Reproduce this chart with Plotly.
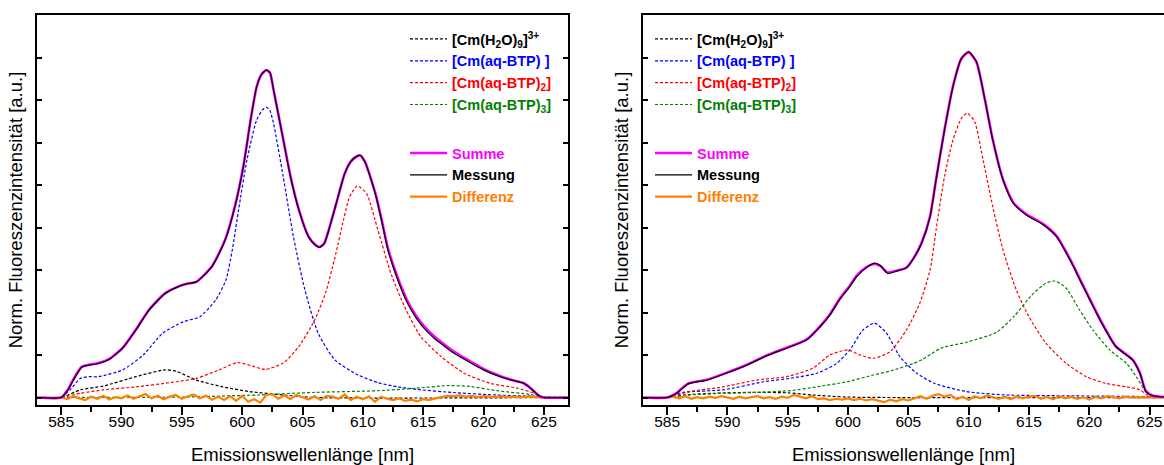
import numpy as np
import plotly.graph_objects as go

# ---------------- data ----------------
# Left panel
L_MESS_X = [583, 585, 585.5, 586, 586.7, 587.3, 588.1, 589.0, 590.1, 591.2, 592.3, 593.6, 594.8, 595.5,
            596.2, 597.5, 598.6, 599.4, 600.1, 600.7, 601.2, 601.6, 602.0, 602.3, 602.6, 603.3, 604.0,
            604.7, 605.5, 606.0, 606.4, 606.8, 607.1, 607.8, 608.5, 609.0, 609.5, 609.8, 610.2, 610.6,
            611.1, 611.6, 612.1, 612.9, 613.7, 614.4, 615.1, 616.0, 616.7, 617.5, 618.4, 619.2, 620.0,
            620.8, 621.7, 622.5, 623.3, 623.9, 624.6, 625.0, 627]
L_MESS_Y = [0, 0, 0.015, 0.04, 0.071, 0.076, 0.080, 0.090, 0.116, 0.159, 0.206, 0.244, 0.262, 0.268,
            0.272, 0.308, 0.371, 0.449, 0.543, 0.653, 0.731, 0.760, 0.771, 0.765, 0.724, 0.622, 0.520,
            0.441, 0.378, 0.360, 0.353, 0.362, 0.386, 0.457, 0.527, 0.555, 0.568, 0.570, 0.553, 0.520,
            0.472, 0.410, 0.345, 0.276, 0.222, 0.188, 0.162, 0.137, 0.122, 0.105, 0.090, 0.077, 0.065,
            0.055, 0.046, 0.040, 0.034, 0.022, 0.004, 0, 0]
L_SUM_Y = [0, 0, 0.016, 0.042, 0.072, 0.077, 0.081, 0.091, 0.117, 0.160, 0.207, 0.245, 0.262, 0.268,
           0.272, 0.309, 0.372, 0.450, 0.544, 0.653, 0.731, 0.760, 0.770, 0.764, 0.724, 0.623, 0.521,
           0.442, 0.379, 0.361, 0.354, 0.363, 0.387, 0.457, 0.527, 0.555, 0.567, 0.569, 0.553, 0.521,
           0.474, 0.413, 0.349, 0.281, 0.227, 0.193, 0.167, 0.142, 0.126, 0.109, 0.093, 0.080, 0.067,
           0.057, 0.047, 0.040, 0.034, 0.022, 0.004, 0, 0]
L_H2O_X = [583, 585, 586.6, 588.5, 591.2, 593.6, 594.5, 596.2, 598.4, 600.6, 603.45, 606, 627]
L_H2O_Y = [0, 0, 0.018, 0.027, 0.049, 0.065, 0.062, 0.041, 0.025, 0.014, 0.006, 0.0, 0]
L_BTP1_X = [583, 585, 585.8, 586.6, 587.3, 588.1, 590.1, 591.8, 593.4, 595.1, 596.5, 597.8, 598.65,
            599.2, 599.7, 600.4, 601.2, 601.7, 602.0, 602.3, 602.6, 603.4, 604.25, 605.2, 606.3, 607.7,
            609.6, 611.25, 612.9, 614.5, 617.8, 621.0, 625, 627]
L_BTP1_Y = [0, 0, 0.02, 0.045, 0.049, 0.049, 0.065, 0.100, 0.151, 0.178, 0.190, 0.229, 0.276,
            0.350, 0.441, 0.559, 0.653, 0.677, 0.683, 0.675, 0.645, 0.520, 0.378, 0.253, 0.151, 0.088,
            0.053, 0.035, 0.025, 0.019, 0.011, 0.006, 0.002, 0]
L_BTP2_X = [583, 585, 586.6, 588.5, 591.2, 594.0, 596.2, 598.1, 599.6, 600.85, 601.9, 603.4, 604.7,
            606.0, 606.9, 607.7, 608.4, 608.9, 609.55, 610.3, 611.25, 612.35, 613.45, 614.8, 616.5,
            618.4, 620.6, 622.8, 624.2, 625, 627]
L_BTP2_Y = [0, 0, 0.010, 0.018, 0.025, 0.035, 0.045, 0.065, 0.082, 0.074, 0.066, 0.081, 0.120,
            0.182, 0.245, 0.331, 0.418, 0.472, 0.498, 0.480, 0.394, 0.290, 0.214, 0.143, 0.096,
            0.057, 0.033, 0.022, 0.010, 0, 0]
L_BTP3_X = [583, 585, 595, 601.4, 606, 611.25, 614.5, 617.0, 618.9, 621.1, 623.9, 625, 627]
L_BTP3_Y = [0, 0, 0.001, 0.006, 0.012, 0.016, 0.022, 0.028, 0.026, 0.016, 0.007, 0, 0]

# Right panel
R_MESS_X = [583, 585, 585.8, 586.75, 588.3, 589.9, 591.6, 593.25, 594.9, 596.55, 597.7, 598.5, 599.3,
            600.15, 600.7, 601.5, 602.2, 602.7, 603.3, 604.1, 604.85, 605.5, 606.1, 606.8, 607.3,
            608.0, 608.7, 609.4, 610.0, 610.65, 611.3, 612.0, 612.85, 613.7, 614.8, 616.2, 617.3,
            618.4, 619.5, 620.9, 622.2, 623.6, 624.2, 624.7, 625.3, 627]
R_MESS_Y = [0, 0, 0.010, 0.032, 0.041, 0.057, 0.076, 0.098, 0.116, 0.135, 0.167, 0.194, 0.230,
            0.261, 0.284, 0.305, 0.316, 0.310, 0.292, 0.298, 0.305, 0.330, 0.363, 0.425, 0.512,
            0.629, 0.731, 0.798, 0.814, 0.790, 0.708, 0.606, 0.512, 0.457, 0.429, 0.406, 0.378,
            0.324, 0.261, 0.182, 0.120, 0.088, 0.057, 0.014, 0.004, 0]
R_SUM_Y = [0, 0, 0.011, 0.033, 0.042, 0.058, 0.077, 0.099, 0.117, 0.136, 0.168, 0.196, 0.232,
           0.263, 0.286, 0.306, 0.314, 0.309, 0.294, 0.299, 0.306, 0.331, 0.364, 0.426, 0.513,
           0.630, 0.732, 0.797, 0.812, 0.789, 0.708, 0.607, 0.513, 0.459, 0.431, 0.408, 0.380,
           0.326, 0.263, 0.184, 0.121, 0.089, 0.058, 0.015, 0.004, 0]
R_H2O_X = [583, 585, 586.5, 589, 592, 595, 597, 600, 627]
R_H2O_Y = [0, 0, 0.006, 0.010, 0.012, 0.011, 0.006, 0.001, 0]
R_BTP1_X = [583, 585, 586.3, 589.65, 593.0, 595.2, 597.4, 599.05, 600.15, 601.25, 602.2, 603.2,
            604.3, 605.7, 607.2, 609.8, 613, 618, 625, 627]
R_BTP1_Y = [0, 0, 0.012, 0.018, 0.037, 0.045, 0.057, 0.080, 0.112, 0.159, 0.175, 0.151,
            0.096, 0.057, 0.033, 0.014, 0.006, 0.004, 0.002, 0]
R_BTP2_X = [583, 585, 586.9, 589.65, 592.4, 594.9, 597.1, 598.5, 600.0, 601.0, 602.1, 603.5, 604.85,
            605.95, 606.8, 607.3, 608.0, 608.7, 609.4, 609.9, 610.5, 611.2, 612.0, 612.85, 613.95,
            615.0, 616.4, 618.1, 619.75, 621.4, 623.1, 624.2, 624.8, 625.3, 627]
R_BTP2_Y = [0, 0, 0.014, 0.025, 0.041, 0.049, 0.069, 0.100, 0.112, 0.100, 0.092, 0.108, 0.159,
            0.222, 0.300, 0.394, 0.520, 0.606, 0.657, 0.669, 0.649, 0.559, 0.449, 0.347, 0.253,
            0.190, 0.128, 0.080, 0.049, 0.033, 0.025, 0.018, 0.006, 0, 0]
R_BTP3_X = [583, 585, 586.9, 589.65, 592.4, 595.2, 597.4, 599.9, 602.1, 603.6, 605.4, 606.2, 607.7,
            609.8, 612.3, 613.8, 615.2, 616.4, 617.2, 618.1, 619.2, 620.3, 621.7, 623.1, 623.9,
            624.7, 625.3, 627]
R_BTP3_Y = [0, 0, 0.006, 0.010, 0.012, 0.016, 0.025, 0.037, 0.053, 0.063, 0.080, 0.090, 0.116,
            0.130, 0.153, 0.192, 0.240, 0.269, 0.274, 0.257, 0.206, 0.159, 0.112, 0.080, 0.049,
            0.014, 0.004, 0]

# Differenz (residuals), 583 ... 627 nm in 0.5 nm steps
DIFF_X = np.arange(583.0, 627.01, 0.5)
L_DIFF_Y = [0, 0, 0, 0,
            0.000, -0.004, 0.003, -0.002, -0.006, 0.002, -0.003, 0.004, -0.005, 0.001,
            -0.002, 0.005, -0.003, 0.003, 0.008, -0.002, 0.004, -0.004, 0.002, 0.006,
            -0.003, 0.003, 0.007, -0.002, 0.004, -0.005, 0.002, -0.006, 0.003, -0.008,
            0.004, -0.010, -0.004, -0.012, 0.006, 0.008, -0.003, 0.005, -0.004, 0.006,
            0.000, -0.005, 0.003, -0.006, 0.004, 0.002, -0.003, 0.007, -0.006, 0.002,
            -0.004, 0.003, -0.010, 0.002, -0.003, -0.006, -0.002, -0.008, -0.005, -0.009,
            -0.004, -0.006, -0.002, 0.001, 0.004, 0.003, 0.005, 0.002, 0.004, 0.001,
            0.003, 0.002, 0.001, 0.003, 0.001, 0.002, 0.001, 0.002, 0.001, 0.000, 0.000,
            0, 0, 0, 0]
R_DIFF_Y = [0, 0, 0, 0,
            0.000, 0.002, -0.002, 0.003, -0.003, 0.001, -0.002, 0.002, -0.001, 0.003,
            0.000, -0.003, 0.002, -0.002, 0.001, 0.003, -0.002, 0.001, -0.003, 0.002,
            -0.001, 0.006, 0.002, -0.002, 0.003, -0.004, -0.002, -0.006, -0.003, -0.005,
            -0.002, -0.006, -0.003, -0.007, -0.004, -0.008, -0.011, -0.005, -0.009, -0.004,
            -0.007, -0.002, 0.003, -0.003, 0.004, 0.008, 0.002, 0.006, -0.004, 0.002,
            -0.006, 0.003, -0.002, 0.005, 0.001, -0.003, 0.002, -0.004, 0.003, -0.002,
            0.002, 0.004, -0.003, 0.002, -0.004, 0.003, -0.002, 0.002, -0.003, 0.001,
            -0.005, 0.002, -0.002, 0.003, 0.001, -0.002, 0.002, 0.000, 0.001, 0.000, 0.000,
            0, 0, 0, 0]

X_TICKS = [585, 590, 595, 600, 605, 610, 615, 620, 625]
X_TITLE = "Emissionswellenlänge [nm]"
Y_TITLE = "Norm. Fluoreszenzintensität [a.u.]"

NAMES = {
    "h2o": "<b>[Cm(H<sub>2</sub>O)<sub>9</sub>]<sup>3+</sup></b>",
    "btp1": "<b><span style='color:#0000FF'>[Cm(aq-BTP) ]</span></b>",
    "btp2": "<b><span style='color:#FF0000'>[Cm(aq-BTP)<sub>2</sub>]</span></b>",
    "btp3": "<b><span style='color:#008000'>[Cm(aq-BTP)<sub>3</sub>]</span></b>",
    "sum": "<b><span style='color:#FF00FF'>Summe</span></b>",
    "mess": "<b>Messung</b>",
    "diff": "<b><span style='color:#FF8000'>Differenz</span></b>",
}

FONT = "Arial, 'Liberation Sans', sans-serif"
W, H = 1164, 465

fig = go.Figure()


def add_panel(xa, ya, lg1, lg2, h2o, b1, b2, b3, mess_x, mess_y, sum_y, diff_y):
    dash = "3px,2px"
    comps = [("h2o", h2o, "#000000"), ("btp1", b1, "#0000FF"),
             ("btp2", b2, "#FF0000"), ("btp3", b3, "#008000")]
    for key, (xs, ys), col in comps:
        fig.add_trace(go.Scatter(x=xs, y=ys, mode="lines", name=NAMES[key],
                                 line=dict(color=col, width=1.2, dash=dash, shape="spline", smoothing=0.6),
                                 xaxis=xa, yaxis=ya, legend=lg1))
    fig.add_trace(go.Scatter(x=DIFF_X, y=diff_y, mode="lines", name=NAMES["diff"],
                             line=dict(color="#FF8000", width=2.2),
                             xaxis=xa, yaxis=ya, legend=lg2, legendrank=3))
    fig.add_trace(go.Scatter(x=mess_x, y=sum_y, mode="lines", name=NAMES["sum"],
                             line=dict(color="#FF00FF", width=2.6, shape="spline", smoothing=0.6),
                             xaxis=xa, yaxis=ya, legend=lg2, legendrank=1))
    fig.add_trace(go.Scatter(x=mess_x, y=mess_y, mode="lines", name=NAMES["mess"],
                             line=dict(color="#000000", width=1.2, shape="spline", smoothing=0.6),
                             xaxis=xa, yaxis=ya, legend=lg2, legendrank=2))


add_panel("x", "y", "legend", "legend2",
          (L_H2O_X, L_H2O_Y), (L_BTP1_X, L_BTP1_Y), (L_BTP2_X, L_BTP2_Y), (L_BTP3_X, L_BTP3_Y),
          L_MESS_X, L_MESS_Y, L_SUM_Y, L_DIFF_Y)
add_panel("x2", "y2", "legend3", "legend4",
          (R_H2O_X, R_H2O_Y), (R_BTP1_X, R_BTP1_Y), (R_BTP2_X, R_BTP2_Y), (R_BTP3_X, R_BTP3_Y),
          R_MESS_X, R_MESS_Y, R_SUM_Y, R_DIFF_Y)

L_DOM = [37 / W, 568 / W]
R_DOM = [643 / W, 1.0]
Y_DOM = [1 - 405 / H, 1 - 15 / H]
L_RANGE = [583, 627]
R_RANGE = [583, 626.2]
Y_RANGE = [-0.01765, 0.9]

tickfont = dict(family=FONT, size=15.5, color="black")
titlefont = dict(family=FONT, size=18.5, color="black")


def xaxis_cfg(dom, rng, anchor, mirror):
    return dict(domain=dom, range=rng, anchor=anchor, tickvals=X_TICKS, ticks="outside",
                ticklen=8, tickwidth=1.5, tickcolor="black", showline=True, linewidth=1.6,
                linecolor="black", mirror=mirror, showgrid=False, zeroline=False,
                ticklabelstandoff=-6,
                minor=dict(dtick=2.5, tick0=585, ticks="outside", ticklen=5, tickwidth=1.5,
                           tickcolor="black", showgrid=False),
                tickfont=tickfont, title=dict(text=X_TITLE, font=titlefont, standoff=19),
                automargin=False)


def top_axis_cfg(dom, rng, over, anchor):
    return dict(domain=dom, overlaying=over, anchor=anchor, side="top", range=rng, tickvals=X_TICKS,
                ticks="inside", ticklen=5, tickwidth=1.5, tickcolor="black", showticklabels=False,
                showline=False, showgrid=False, zeroline=False,
                minor=dict(dtick=2.5, tick0=585, ticks="inside", ticklen=5, tickwidth=1.5,
                           tickcolor="black", showgrid=False),
                automargin=False)


def yaxis_cfg(anchor, mirror):
    return dict(domain=Y_DOM, range=Y_RANGE, anchor=anchor, dtick=0.1, tick0=0, ticks="inside",
                ticklen=5, tickwidth=1.5, tickcolor="black", showticklabels=False, showline=True,
                linewidth=1.6, linecolor="black", mirror=mirror, showgrid=False, zeroline=False,
                title=dict(text=Y_TITLE, font=titlefont, standoff=8), automargin=False)


def legend_cfg(x_px, y_px):
    return dict(x=x_px / W, y=1 - y_px / H, xanchor="left", yanchor="top",
                bgcolor="rgba(0,0,0,0)", borderwidth=0, itemwidth=37,
                font=dict(family=FONT, size=14.5, color="black"), tracegroupgap=0)


fig.update_layout(
    width=W, height=H, margin=dict(l=0, r=0, t=0, b=0),
    paper_bgcolor="white", plot_bgcolor="white",
    xaxis=xaxis_cfg(L_DOM, L_RANGE, "y", True),
    xaxis2=xaxis_cfg(R_DOM, R_RANGE, "y2", True),
    xaxis3=top_axis_cfg(L_DOM, L_RANGE, "x", "y"),
    xaxis4=top_axis_cfg(R_DOM, R_RANGE, "x2", "y2"),
    yaxis=yaxis_cfg("x", "ticks"),
    yaxis2=yaxis_cfg("x2", False),
    legend=legend_cfg(405, 23),
    legend2=legend_cfg(405, 137),
    legend3=legend_cfg(650, 23),
    legend4=legend_cfg(650, 137),
    showlegend=True,
)

fig.write_html("out.html", config={"displayModeBar": False},
               post_script="document.body.style.margin='0px';document.body.style.overflow='hidden';")
